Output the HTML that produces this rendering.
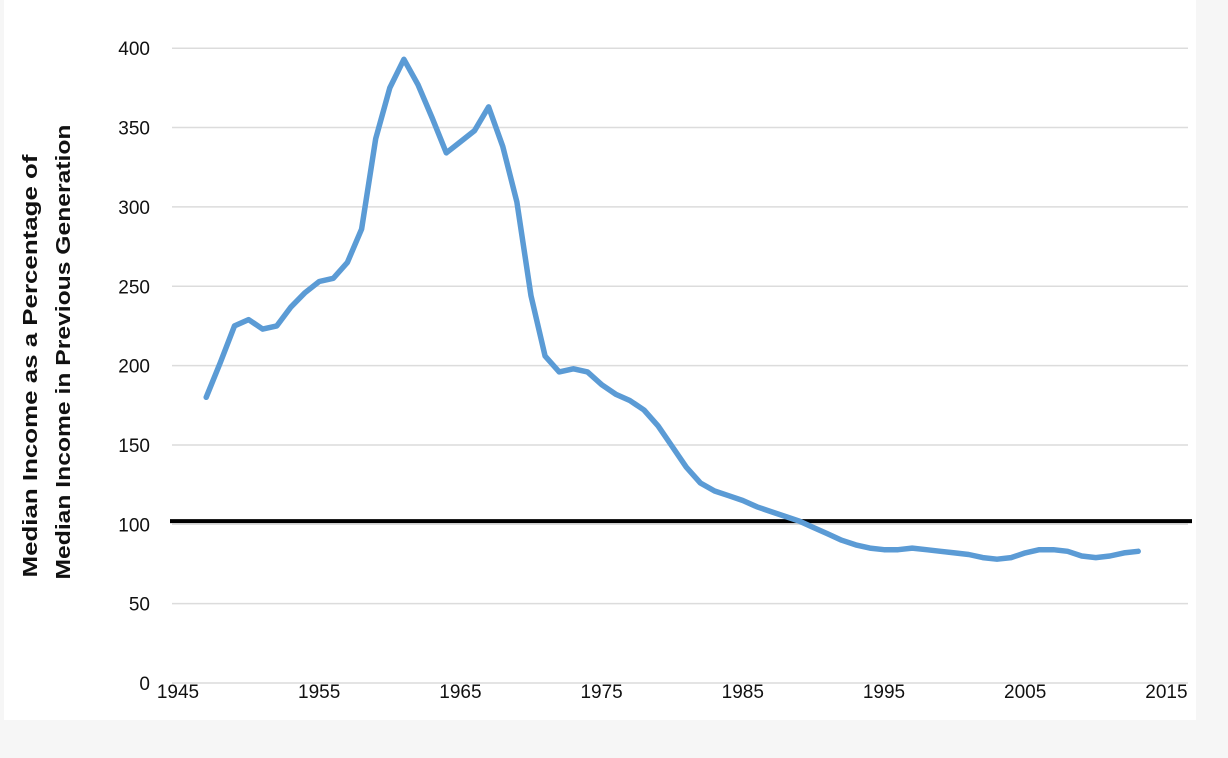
<!DOCTYPE html>
<html><head><meta charset="utf-8"><style>
html,body{margin:0;padding:0;background:#f6f6f6;}
body{width:1228px;height:758px;overflow:hidden;font-family:"Liberation Sans",sans-serif;}
#panel{position:absolute;left:4px;top:0;width:1192px;height:720px;background:#fff;}
svg{position:absolute;left:0;top:0;}
</style></head><body>
<div id="panel"></div>
<svg id="chart" width="1228" height="758"></svg>
<script>
const years=[1947,1948,1949,1950,1951,1952,1953,1954,1955,1956,1957,1958,1959,1960,1961,1962,1963,1964,1965,1966,1967,1968,1969,1970,1971,1972,1973,1974,1975,1976,1977,1978,1979,1980,1981,1982,1983,1984,1985,1986,1987,1988,1989,1990,1991,1992,1993,1994,1995,1996,1997,1998,1999,2000,2001,2002,2003,2004,2005,2006,2007,2008,2009,2010,2011,2012,2013];
const values=[180,202,225,229,223,225,237,246,253,255,265,286,343,375,393,377,356,334,341,348,363,338,303,244,206,196,198,196,188,182,178,172,162,149,136,126,121,118,115,111,108,105,102,98,94,90,87,85,84,84,85,84,83,82,81,79,78,79,82,84,84,83,80,79,80,82,83];
const yTicks=[0,50,100,150,200,250,300,350,400];
const xTicks=[1945,1955,1965,1975,1985,1995,2005,2015];
const refValue=102;
const NS="http://www.w3.org/2000/svg";
const svg=document.getElementById('chart');
const X=v=>178+(v-1945)*14.12;
const Y=v=>683-v*1.587;
function mk(t,a){const e=document.createElementNS(NS,t);for(const k in a)e.setAttribute(k,a[k]);svg.appendChild(e);return e;}
yTicks.forEach(t=>{
  const g=mk('line',{x1:172,x2:1188,y1:Y(t),y2:Y(t),stroke:'#dcdcdc','stroke-width':1.5});
  
  
  const l=mk('text',{x:150,y:Y(t)+7,'text-anchor':'end','font-size':19,fill:'#111'});
  l.textContent=t;
  
  
});
xTicks.forEach(t=>{
  const l=mk('text',{x:X(t),y:698,'text-anchor':'middle','font-size':19,fill:'#111'});
  l.textContent=t;
  
  
});
const ref=mk('line',{x1:170,x2:1192,y1:Y(refValue),y2:Y(refValue),stroke:'#000','stroke-width':4});


const pts=years.map((y,i)=>X(y).toFixed(1)+','+Y(values[i]).toFixed(1)).join(' ');
const line=mk('polyline',{points:pts,fill:'none',stroke:'#5b9bd5','stroke-width':5.5,'stroke-linejoin':'round','stroke-linecap':'round'});


const t1=mk('text',{x:0,y:0,'text-anchor':'middle','font-size':20,'font-weight':'bold',fill:'#111',textLength:423,lengthAdjust:'spacingAndGlyphs',transform:'translate(37,366) rotate(-90)'});
t1.textContent='Median Income as a Percentage of';


const t2=mk('text',{x:0,y:0,'text-anchor':'middle','font-size':20,'font-weight':'bold',fill:'#111',textLength:455,lengthAdjust:'spacingAndGlyphs',transform:'translate(70,352) rotate(-90)'});
t2.textContent='Median Income in Previous Generation';


</script>
</body></html>
